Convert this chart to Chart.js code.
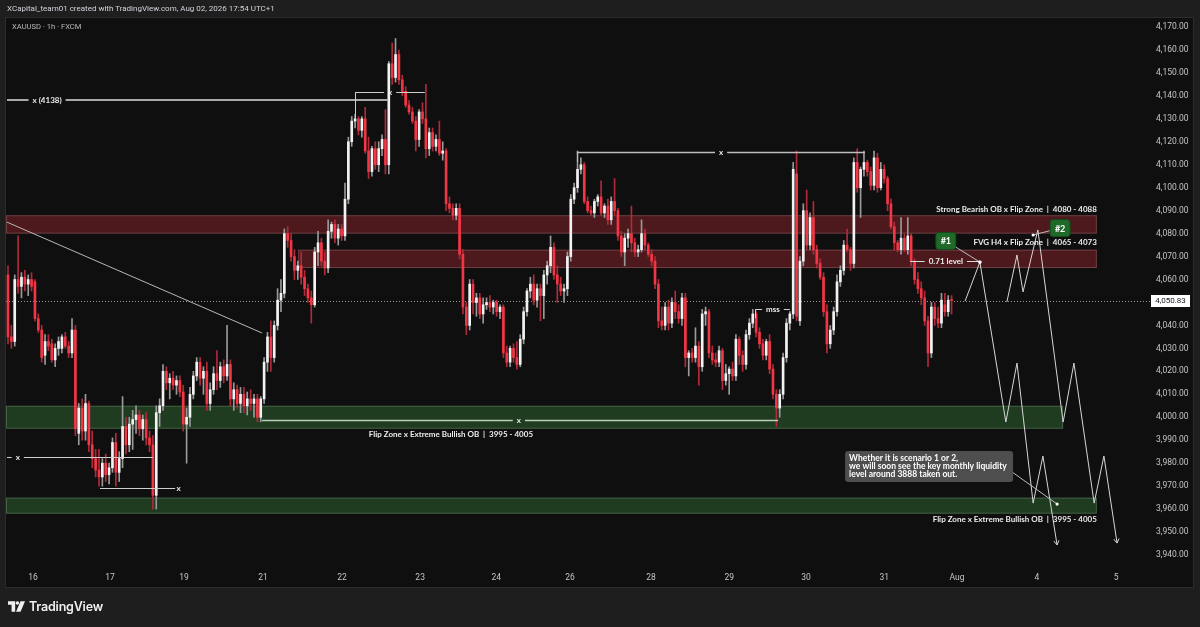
<!DOCTYPE html>
<html>
<head>
<meta charset="utf-8">
<script src="https://cdn.jsdelivr.net/npm/chart.js@4.4.1/dist/chart.umd.min.js"></script>
<style>
  html, body { margin: 0; padding: 0; background: #1e1e1e; }
  #wrap { position: relative; width: 1200px; height: 627px; overflow: hidden; }
  #chart { position: absolute; left: 0; top: 0; }
  .hdr { position: absolute; left: 7px; top: 4px; font: 8px Roboto, sans-serif; color: #d1d4dc; }
  .sym { position: absolute; left: 12px; top: 22px; font: 7.6px Roboto, sans-serif; color: #b8b8b8; }
  .brand { position: absolute; left: 8px; top: 598px; height: 16px; display: flex; align-items: center; }
  .brand span { font: 600 12.5px Inter, sans-serif; color: #f0f0f0; letter-spacing: -0.2px; margin-left: 4px; }
</style>
</head>
<body>
<div id="wrap">
  <canvas id="chart" width="1200" height="627"></canvas>
  <div class="hdr">XCapital_team01 created with TradingView.com, Aug 02, 2026 17:54 UTC+1</div>
  <div class="sym">XAUUSD · 1h · FXCM</div>
  <div class="brand">
    <svg width="17" height="11" viewBox="0 0 19 12">
      <path d="M0 0h8v12h-4v-8h-4z" fill="#f0f0f0"/>
      <circle cx="10.5" cy="2" r="2" fill="#f0f0f0"/>
      <path d="M14 0h5l-5 12h-5z" fill="#f0f0f0"/>
    </svg>
    <span>TradingView</span>
  </div>
</div>
<script>
// XAUUSD 1h candles
const opens = [4062,4035,4033,4060,4057,4061,4058,4060,4059,4043,4038,4027,4033,4032,4025,4030,4030,4035,4031,4028,
4038,3993,4004,3994,4006,3988,3982,3977,3974,3980,3975,3978,3989,3976,3982,3996,3988,3997,3999,4001,
3995,3999,3991,3988,3966,4002,4005,4020,4015,4017,4014,4016,4011,3997,4000,4010,4018,4024,4017,4020,
4006,4012,4019,4016,4022,4018,4023,4008,4012,4006,4010,4005,4008,4006,4008,4000,4008,4024,4035,4026,
4040,4051,4054,4080,4077,4070,4064,4066,4061,4056,4052,4049,4072,4076,4068,4065,4081,4084,4078,4082,
4079,4095,4120,4129,4130,4125,4130,4116,4107,4117,4110,4117,4121,4110,4154,4148,4158,4147,4142,4136,
4133,4129,4121,4133,4130,4117,4124,4118,4121,4115,4116,4093,4091,4088,4091,4071,4048,4040,4058,4050,
4052,4045,4049,4050,4048,4050,4046,4048,4028,4024,4030,4026,4023,4034,4046,4055,4058,4051,4056,4053,
4062,4066,4074,4062,4058,4055,4056,4070,4095,4100,4108,4110,4094,4090,4089,4094,4096,4089,4092,4086,
4094,4090,4079,4072,4078,4080,4076,4072,4073,4080,4075,4071,4068,4058,4042,4040,4048,4041,4050,4046,
4043,4052,4026,4028,4026,4031,4022,4045,4046,4028,4025,4024,4029,4016,4019,4021,4018,4034,4027,4023,
4036,4041,4045,4037,4032,4027,4033,4021,4010,4004,4010,4026,4041,4045,4106,4042,4068,4090,4075,4087,
4073,4067,4061,4046,4032,4038,4046,4059,4064,4075,4073,4067,4111,4100,4108,4111,4107,4101,4113,4100,
4108,4104,4093,4083,4076,4073,4078,4073,4079,4068,4060,4056,4052,4042,4028,4048,4043,4041,4049,4046,
4051];
const highs = [4066,4040,4062,4079,4063,4064,4062,4063,4060,4045,4040,4036,4036,4034,4032,4035,4036,4037,4033,4043,
4040,4006,4008,4010,4007,3994,3986,3986,3982,3984,3980,3991,3993,3985,4009,4000,4000,4003,4005,4003,
4001,4002,3994,3992,4005,4008,4023,4022,4019,4020,4018,4018,4014,4004,4013,4020,4026,4026,4022,4024,
4015,4022,4029,4024,4025,4040,4025,4015,4014,4013,4013,4011,4012,4010,4010,4009,4026,4037,4042,4042,
4056,4060,4082,4083,4080,4073,4068,4072,4064,4058,4055,4074,4081,4078,4072,4086,4085,4086,4084,4084,
4102,4122,4131,4132,4131,4131,4135,4122,4118,4120,4120,4123,4134,4155,4163,4165,4160,4149,4144,4138,
4135,4131,4134,4137,4145,4126,4126,4123,4129,4120,4117,4096,4093,4093,4093,4073,4050,4060,4060,4054,
4054,4052,4052,4053,4051,4051,4049,4049,4031,4031,4032,4033,4036,4048,4056,4061,4062,4058,4058,4064,
4068,4079,4076,4066,4061,4058,4072,4097,4102,4116,4113,4111,4096,4092,4095,4097,4103,4093,4095,4096,
4104,4091,4081,4080,4082,4092,4078,4075,4086,4082,4076,4073,4070,4060,4048,4050,4051,4052,4055,4049,
4054,4054,4029,4030,4039,4033,4047,4048,4047,4031,4028,4031,4030,4023,4022,4024,4036,4035,4029,4038,
4043,4047,4046,4039,4034,4034,4036,4023,4012,4012,4028,4043,4046,4111,4116,4070,4093,4099,4089,4094,
4075,4069,4063,4049,4040,4048,4062,4066,4077,4082,4074,4113,4117,4109,4116,4112,4109,4116,4115,4111,
4110,4105,4095,4085,4077,4087,4080,4087,4080,4069,4063,4059,4055,4044,4050,4050,4048,4054,4054,4053,
4053];
const lows = [4032,4030,4031,4054,4052,4055,4053,4055,4042,4037,4024,4023,4029,4024,4022,4027,4028,4030,4026,4026,
3992,3988,3990,3990,3985,3978,3974,3970,3970,3972,3971,3976,3970,3972,3978,3984,3985,3986,3993,3992,
3990,3988,3985,3960,3960,3996,4003,4012,4008,4012,4010,4009,3994,3980,3996,4008,4016,4014,4010,4003,
4003,4010,4012,4013,4015,4016,4005,4003,4004,4002,4002,4001,4003,4000,3998,3998,4006,4020,4020,4024,
4038,4046,4052,4074,4068,4060,4060,4058,4053,4050,4041,4048,4066,4066,4062,4063,4078,4076,4075,4077,
4077,4093,4118,4126,4123,4122,4115,4104,4105,4108,4107,4114,4106,4106,4145,4146,4145,4140,4135,4132,
4128,4116,4118,4128,4113,4114,4116,4116,4114,4112,4090,4089,4086,4086,4069,4045,4036,4038,4045,4044,
4043,4041,4047,4046,4045,4044,4043,4026,4022,4022,4024,4021,4022,4032,4044,4052,4049,4048,4042,4043,
4058,4063,4060,4050,4053,4050,4053,4068,4093,4098,4106,4093,4089,4088,4087,4092,4088,4087,4084,4084,
4088,4077,4070,4066,4074,4072,4070,4070,4072,4073,4070,4066,4056,4039,4038,4038,4038,4039,4043,4041,
4040,4022,4018,4024,4024,4014,4020,4040,4026,4023,4022,4022,4012,4014,4010,4016,4016,4023,4020,4021,
4034,4039,4035,4030,4025,4025,4019,4008,3996,4000,4008,4024,4038,4043,4042,4040,4066,4073,4073,4071,
4065,4060,4044,4028,4030,4036,4044,4057,4062,4072,4064,4065,4098,4087,4105,4105,4099,4099,4098,4099,
4102,4090,4082,4073,4072,4071,4072,4071,4066,4058,4054,4049,4040,4022,4026,4040,4039,4039,4044,4044,
4045];
const closes = [4035,4033,4060,4057,4061,4058,4060,4057,4043,4038,4026,4033,4031,4025,4030,4033,4035,4031,4028,4038,
3995,4004,3994,4006,3988,3982,3977,3974,3980,3975,3978,3989,3976,3982,3996,3988,3997,3999,4001,3995,
3999,3991,3988,3966,4002,4005,4020,4015,4017,4014,4016,4011,3997,4000,4010,4018,4024,4017,4020,4006,
4012,4019,4016,4022,4018,4023,4008,4012,4006,4010,4005,4008,4006,4008,4000,4008,4024,4035,4026,4040,
4051,4054,4080,4077,4070,4064,4066,4061,4056,4052,4049,4072,4076,4068,4065,4081,4084,4078,4082,4079,
4095,4120,4129,4130,4125,4130,4116,4107,4117,4110,4117,4121,4110,4154,4148,4158,4147,4142,4136,4133,
4129,4121,4133,4130,4117,4124,4118,4121,4115,4116,4093,4091,4088,4091,4071,4048,4040,4058,4050,4052,
4045,4049,4050,4048,4050,4046,4048,4028,4024,4030,4026,4023,4034,4046,4055,4058,4051,4056,4053,4062,
4066,4074,4062,4058,4055,4056,4070,4095,4100,4108,4110,4094,4090,4089,4094,4096,4089,4092,4086,4094,
4090,4079,4072,4078,4080,4076,4072,4073,4080,4075,4071,4068,4058,4042,4040,4048,4041,4050,4046,4043,
4052,4026,4028,4026,4031,4022,4045,4046,4028,4025,4024,4029,4016,4019,4021,4018,4034,4027,4023,4036,
4041,4045,4037,4032,4027,4033,4021,4010,4004,4010,4026,4041,4045,4108,4044,4068,4090,4075,4087,4073,
4067,4061,4046,4032,4038,4046,4059,4064,4075,4073,4067,4111,4100,4108,4111,4107,4101,4113,4100,4108,
4104,4093,4083,4076,4073,4078,4073,4079,4068,4060,4056,4052,4042,4028,4048,4043,4041,4051,4046,4051,
4050.83];

// time axis: day labels and the candle index where each falls
const dayLabels = ['16','17','19','21','22','23','24','26','28','29','30','31','Aug','4','5'];
const dayStart = [7.4, 30.3, 52.2, 75.7, 99.1, 122.3, 144.9, 166.8, 190.8, 214, 236.8, 260, 281.6, 305.3, 328.8];

// price axis
const priceTicks = [3940,3950,3960,3970,3980,3990,4000,4010,4020,4030,4040,4060,4070,4080,4090,4100,4110,4120,4130,4140,4150,4160,4170];
const lastPrice = 4050.83;

// drawings: zones [fromIndex, toIndex, low, high]
const bearOB = [-1, 323.1, 4080, 4088];
const fvgH4 = [86.1, 323.1, 4065, 4073];
const bullOB = [-1, 313.1, 3995, 4005];
const bullOB2 = [-1, 323.1, 3958, 3965];

// projected scenario paths [index, price]
const scenario1 = [[284,4050.6],[288.4,4067.6],[296.1,3997.9],[299.4,4023.6],[304.2,3962.6],[307.1,3983.1],[311.3,3944.4]];
const scenario2 = [[296.4,4050.2],[299.4,4070.7],[301.2,4054.6],[305.6,4081.6],[313.1,3997.9],[316.3,4023.6],[322.3,3962.6],[325.2,3983.1],[329.1,3945.2]];
const trendLine = [[-0.3,4085],[75.4,4036.7]];

const idx = closes.map((_, i) => i);
const BULL = '#f2f2f2', BEAR = '#f23645';
const bodyColors = closes.map((c, i) => c >= opens[i] ? BULL : BEAR);
const wickColors = closes.map((c, i) => c >= opens[i] ? '#9a9a9a' : '#b02a3a');

const toXY = pts => pts.map(p => ({x: p[0], y: p[1]}));

function txt(c, s, x, y, align, font, color) {
  c.font = font || 'bold 8px Lato';
  c.fillStyle = color || '#ececec';
  c.textAlign = align || 'left';
  c.textBaseline = 'middle';
  c.fillText(s, x, y);
}

function hline(c, x1, x2, y, color, w) {
  c.strokeStyle = color; c.lineWidth = w || 1;
  c.beginPath(); c.moveTo(x1, y); c.lineTo(x2, y); c.stroke();
}

// horizontal level with a label sitting in a gap of the line
function level(c, x1, x2, y, label, lx, color, w) {
  c.font = 'bold 8px Lato';
  const tw = c.measureText(label).width;
  const gl = lx - tw / 2 - 4, gr = lx + tw / 2 + 4;
  if (gl > x1) hline(c, x1, Math.min(gl, x2), y, color, w);
  if (gr < x2) hline(c, Math.max(gr, x1), x2, y, color, w);
  txt(c, label, lx, y, 'center');
}

function vline(c, x, y1, y2, color) {
  c.strokeStyle = color; c.lineWidth = 1;
  c.beginPath(); c.moveTo(x, y1); c.lineTo(x, y2); c.stroke();
}

function rrect(c, x, y, w, h, r) {
  c.beginPath();
  c.moveTo(x + r, y); c.lineTo(x + w - r, y); c.quadraticCurveTo(x + w, y, x + w, y + r);
  c.lineTo(x + w, y + h - r); c.quadraticCurveTo(x + w, y + h, x + w - r, y + h);
  c.lineTo(x + r, y + h); c.quadraticCurveTo(x, y + h, x, y + h - r);
  c.lineTo(x, y + r); c.quadraticCurveTo(x, y, x + r, y);
  c.closePath();
}

function dot(c, x, y) {
  c.fillStyle = '#ffffff';
  c.beginPath(); c.arc(x, y, 1.6, 0, Math.PI * 2); c.fill();
}

const overlay = {
  id: 'overlay',
  beforeDraw(chart) {
    const c = chart.ctx;
    c.save();
    c.fillStyle = '#0f0f0f';
    c.fillRect(6, 18, 1187, 569);
    c.strokeStyle = '#2c2c2c';
    c.lineWidth = 1;
    c.strokeRect(5.5, 17.5, 1188, 570);
    c.restore();
  },
  beforeDatasetsDraw(chart) {
    const c = chart.ctx, xs = chart.scales.x, ys = chart.scales.y, a = chart.chartArea;
    c.save();
    const zone = (z, fill, edge) => {
      const x1 = Math.max(a.left, xs.getPixelForValue(z[0]));
      const x2 = xs.getPixelForValue(z[1]);
      const y1 = ys.getPixelForValue(z[3]), y2 = ys.getPixelForValue(z[2]);
      c.fillStyle = fill;
      c.fillRect(x1, y1, x2 - x1, y2 - y1);
      c.strokeStyle = edge; c.lineWidth = 1;
      c.strokeRect(x1 + 0.5, y1 + 0.5, x2 - x1 - 1, y2 - y1 - 1);
    };
    zone(bearOB, 'rgba(242,54,69,0.28)', 'rgba(150,110,115,0.45)');
    zone(fvgH4, 'rgba(242,54,69,0.28)', 'rgba(150,110,115,0.45)');
    zone(bullOB, 'rgba(76,175,80,0.28)', 'rgba(110,140,112,0.45)');
    zone(bullOB2, 'rgba(76,175,80,0.28)', 'rgba(110,140,112,0.45)');
    // last price dotted line
    const yp = Math.round(ys.getPixelForValue(lastPrice)) + 0.5;
    c.setLineDash([1, 2]);
    hline(c, a.left, 1150, yp, '#9a9a9a', 1);
    c.setLineDash([]);
    c.restore();
  },
  afterDatasetsDraw(chart) {
    const c = chart.ctx, xs = chart.scales.x, ys = chart.scales.y, a = chart.chartArea;
    const X = v => xs.getPixelForValue(v), Y = v => ys.getPixelForValue(v);
    c.save();
    // zone captions
    txt(c, 'Strong Bearish OB x Flip Zone  |  4080 - 4088', X(bearOB[1]), Y(bearOB[3]) - 6, 'right');
    txt(c, 'FVG H4 x Flip Zone  |  4065 - 4073', X(fvgH4[1]), Y(fvgH4[3]) - 7, 'right');
    txt(c, 'Flip Zone x Extreme Bullish OB  |  3995 - 4005', X(155.8), Y(bullOB[2]) + 6, 'right');
    txt(c, 'Flip Zone x Extreme Bullish OB  |  3995 - 4005', X(bullOB2[1]), Y(bullOB2[2]) + 6, 'right');

    // swing levels
    level(c, a.left + 1, X(112.8), Math.round(Y(4138)), 'x (4138)', X(11.6), '#a8a8a8', 2);
    const y2 = Math.round(Y(4141.7)) + 0.5;
    level(c, X(103), X(123.7), y2, 'x', X(113.4), '#cfcfcf', 1);
    vline(c, Math.round(X(103)) + 0.5, y2, Y(4130.4), '#cfcfcf');
    const y3 = Math.round(Y(4115.5)) + 0.5;
    level(c, X(168.8), X(254.3), y3, 'x', X(211.6), '#bdbdbd', 1.5);
    vline(c, Math.round(X(168.8)) + 0.5, y3, Y(4111.2), '#bdbdbd');
    level(c, a.left + 1, X(43), Math.round(Y(3982.7)) + 0.5, 'x', X(2.9), '#cfcfcf', 1);
    const y5 = Math.round(Y(3969.2)) + 0.5;
    hline(c, X(27.3), X(49.6), y5, '#cfcfcf', 1);
    txt(c, 'x', X(50.6), y5, 'center');
    level(c, X(75.4), X(228.5), Math.round(Y(3998.8)) + 0.5, 'x', X(151.6), '#b7d0b7', 1.5);

    // mss
    const ym = Math.round(Y(4047.2)) + 0.5;
    level(c, X(221.7), X(232), ym, 'mss', X(227), '#cfcfcf', 1);
    vline(c, Math.round(X(221.7)) + 0.5, ym, Y(4043.2), '#cfcfcf');

    // 0.71 level
    const yl = Math.round(Y(4068)) + 0.5;
    level(c, X(267.7), X(288.4), yl, '0.71 level', X(278.3), '#dcdcdc', 1);
    dot(c, X(288.4), Y(4067.6));

    // arrow heads on scenario paths
    [scenario1, scenario2].forEach(p => {
      const n = p.length;
      const x1 = X(p[n - 2][0]), y1 = Y(p[n - 2][1]), x2 = X(p[n - 1][0]), y2b = Y(p[n - 1][1]);
      const ang = Math.atan2(y2b - y1, x2 - x1);
      c.strokeStyle = '#d6d6d6'; c.lineWidth = 1;
      c.beginPath();
      c.moveTo(x2 - 5 * Math.cos(ang - 0.55), y2b - 5 * Math.sin(ang - 0.55));
      c.lineTo(x2, y2b);
      c.lineTo(x2 - 5 * Math.cos(ang + 0.55), y2b - 5 * Math.sin(ang + 0.55));
      c.stroke();
    });

    // badges
    const badge = (label, cx, cy, tx, ty) => {
      c.strokeStyle = '#bdbdbd'; c.lineWidth = 1;
      c.beginPath(); c.moveTo(cx, cy); c.lineTo(tx, ty); c.stroke();
      dot(c, tx, ty);
      rrect(c, cx - 10, cy - 8.5, 20, 17, 3);
      c.fillStyle = '#1f6a28'; c.fill();
      c.strokeStyle = '#154a1c'; c.stroke();
      txt(c, label, cx, cy + 0.5, 'center', 'bold 9px Lato', '#ffffff');
    };
    badge('#1', X(278.3), Y(4076.8), X(288.4), Y(4067.6));
    badge('#2', X(312.2), Y(4082.4), X(304.2), Y(4079.4));

    // callout
    const bx = X(248.4), by = Y(3985.3);
    c.strokeStyle = '#bdbdbd'; c.lineWidth = 1;
    c.beginPath(); c.moveTo(bx + 160, by + 16); c.lineTo(X(311.3), Y(3962.2)); c.stroke();
    dot(c, X(311.3), Y(3962.2));
    rrect(c, bx, by, 168, 31, 3);
    c.fillStyle = '#4e4e4e'; c.fill();
    const cf = 'bold 8.5px Lato';
    txt(c, 'Whether it is scenario 1 or 2,', bx + 4, by + 7.5, 'left', cf, '#ffffff');
    txt(c, 'we will soon see the key monthly liquidity', bx + 4, by + 15.5, 'left', cf, '#ffffff');
    txt(c, 'level around 3888 taken out.', bx + 4, by + 23.5, 'left', cf, '#ffffff');
    c.restore();
  },
  afterDraw(chart) {
    const c = chart.ctx, ys = chart.scales.y;
    const yp = ys.getPixelForValue(lastPrice);
    c.save();
    c.fillStyle = '#ffffff';
    c.fillRect(1151, Math.round(yp) - 6, 39, 12);
    txt(c, lastPrice.toLocaleString('en-US', {minimumFractionDigits: 2}), 1170.5, yp, 'center', '8px Roboto', '#131722');
    c.restore();
  }
};

const chart = new Chart(document.getElementById('chart'), {
  type: 'bar',
  data: {
    datasets: [{
      label: 'wick',
      data: idx.map(i => ({x: i, y: [lows[i], highs[i]]})),
      backgroundColor: wickColors,
      barThickness: 1,
      order: 3
    }, {
      label: 'body',
      data: idx.map(i => ({x: i, y: [opens[i], closes[i]]})),
      backgroundColor: bodyColors,
      barThickness: 2,
      minBarLength: 1,
      order: 2
    }, {
      type: 'line', label: 'scenario 1', data: toXY(scenario1),
      borderColor: '#d6d6d6', borderWidth: 1, pointRadius: 0, order: 1
    }, {
      type: 'line', label: 'scenario 2', data: toXY(scenario2),
      borderColor: '#d6d6d6', borderWidth: 1, pointRadius: 0, order: 1
    }, {
      type: 'line', label: 'trend', data: toXY(trendLine),
      borderColor: '#b8b8b8', borderWidth: 1, pointRadius: 0, order: 1
    }]
  },
  options: {
    responsive: false,
    animation: false,
    devicePixelRatio: 1,
    datasets: { bar: { grouped: false } },
    layout: { padding: { left: 6, top: 21, right: 7, bottom: 40 } },
    plugins: { legend: { display: false }, tooltip: { enabled: false } },
    scales: {
      x: {
        type: 'linear',
        min: -0.59,
        max: 332.94,
        offset: false,
        grid: { display: false, drawTicks: false },
        border: { display: false },
        afterFit: s => { s.height = 22; },
        afterBuildTicks: s => { s.ticks = dayStart.map(v => ({value: v})); },
        ticks: {
          autoSkip: false, maxRotation: 0, padding: 8,
          color: '#c5c5c5', font: { family: 'Roboto', size: 8.5 },
          callback: (v, i) => dayLabels[i]
        }
      },
      y: {
        type: 'linear',
        position: 'right',
        min: 3935.7,
        max: 4172.6,
        beginAtZero: false,
        grid: { display: false, drawTicks: false },
        border: { display: false },
        afterFit: s => { s.width = 63; },
        afterBuildTicks: s => { s.ticks = priceTicks.map(v => ({value: v})); },
        ticks: {
          padding: 26,
          color: '#c5c5c5', font: { family: 'Roboto', size: 8.5 },
          callback: v => v.toLocaleString('en-US', {minimumFractionDigits: 2, maximumFractionDigits: 2})
        }
      }
    }
  },
  plugins: [overlay]
});

// pin the price scale so 4170 sits at y=27 and 3940 at y=555, as in the screenshot
const area = chart.chartArea;
const perPx = (4170 - 3940) / (555 - 27);
chart.options.scales.y.max = 4170 + (27 - area.top) * perPx;
chart.options.scales.y.min = 4170 - (area.bottom - 27) * perPx;
chart.update();
</script>
</body>
</html>
